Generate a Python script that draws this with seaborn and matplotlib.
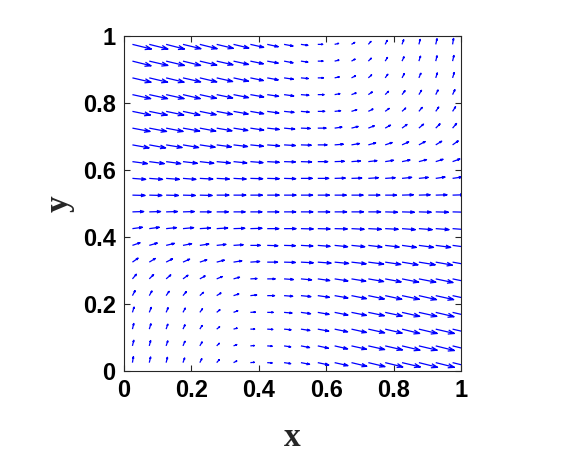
import numpy as np
import matplotlib
matplotlib.use("Agg")
import matplotlib.pyplot as plt
import seaborn as sns

# grid of arrow bases
X_POS = [0.025, 0.075, 0.125, 0.175, 0.225, 0.275, 0.325, 0.375, 0.425, 0.475,
         0.525, 0.575, 0.625, 0.675, 0.725, 0.775, 0.825, 0.875, 0.925, 0.975]
Y_POS = [0.975, 0.925, 0.875, 0.825, 0.775, 0.725, 0.675, 0.625, 0.575, 0.525,
         0.475, 0.425, 0.375, 0.325, 0.275, 0.225, 0.175, 0.125, 0.075, 0.025]

# horizontal component, one list per row (top row first)
U_ROWS = [
    [57, 56, 55, 54, 52, 50, 46, 40, 33, 27, 21, 15, 12, 10, 8, 6, 5, 4, 4, 3],
    [56, 56, 55, 53, 51, 49, 45, 39, 33, 27, 21, 16, 13, 11, 9, 7, 6, 5, 4, 4],
    [56, 55, 54, 53, 51, 48, 45, 39, 33, 28, 22, 17, 14, 12, 10, 8, 7, 6, 5, 5],
    [55, 55, 54, 52, 50, 48, 45, 40, 34, 29, 24, 19, 16, 14, 12, 10, 9, 8, 7, 7],
    [54, 54, 53, 51, 49, 47, 44, 40, 35, 30, 25, 21, 18, 16, 14, 12, 11, 10, 9, 9],
    [53, 52, 51, 50, 48, 46, 43, 40, 36, 32, 28, 25, 22, 20, 18, 16, 15, 14, 13, 12],
    [50, 49, 48, 47, 46, 44, 42, 39, 37, 34, 31, 28, 26, 24, 22, 21, 20, 19, 18, 17],
    [45, 45, 44, 43, 42, 41, 40, 38, 36, 34, 32, 30, 29, 27, 26, 25, 24, 23, 22, 22],
    [40, 40, 40, 39, 39, 38, 38, 37, 36, 35, 34, 33, 32, 31, 30, 30, 29, 28, 28, 28],
    [38, 38, 37, 37, 37, 37, 37, 36, 36, 36, 35, 35, 35, 35, 35, 34, 34, 34, 34, 34],
    [34, 34, 34, 34, 34, 35, 35, 35, 35, 35, 36, 36, 36, 36, 37, 37, 37, 37, 38, 38],
    [30, 30, 31, 32, 32, 33, 34, 35, 35, 36, 37, 37, 38, 38, 39, 39, 40, 40, 40, 40],
    [23, 24, 25, 26, 27, 28, 29, 30, 32, 34, 36, 37, 39, 40, 41, 42, 43, 44, 45, 45],
    [17, 18, 19, 20, 21, 23, 25, 28, 31, 34, 37, 40, 42, 44, 46, 47, 48, 49, 50, 50],
    [12, 13, 14, 15, 16, 17, 18, 20, 24, 28, 32, 36, 40, 43, 46, 48, 50, 51, 52, 53],
    [8, 8, 9, 10, 11, 13, 16, 19, 22, 26, 30, 35, 40, 45, 48, 50, 52, 53, 54, 55],
    [5, 6, 6, 7, 8, 10, 13, 15, 18, 24, 29, 34, 40, 45, 48, 51, 53, 54, 55, 56],
    [4, 5, 5, 6, 7, 9, 11, 13, 17, 21, 27, 33, 39, 45, 49, 51, 53, 55, 56, 56],
    [4, 4, 5, 6, 7, 8, 10, 12, 15, 20, 26, 32, 39, 45, 49, 52, 54, 55, 56, 57],
    [3, 4, 4, 5, 6, 8, 10, 12, 15, 20, 26, 33, 40, 46, 50, 53, 55, 56, 56, 57],
]

# vertical component, same layout
V_ROWS = [
    [-14, -14, -14, -13, -13, -12, -11, -9, -7, -5, -3, 0, 3, 6, 9, 12, 14, 15, 17, 18],
    [-14, -13, -13, -13, -12, -11, -10, -8, -6, -5, -3, 0, 3, 6, 9, 11, 13, 15, 16, 17],
    [-13, -13, -13, -12, -12, -11, -10, -8, -6, -4, -2, 0, 3, 6, 9, 11, 13, 14, 15, 16],
    [-12, -12, -12, -12, -11, -10, -9, -7, -5, -4, -2, 0, 3, 5, 8, 10, 12, 13, 14, 15],
    [-11, -11, -11, -11, -10, -9, -8, -7, -5, -3, -2, 0, 2, 5, 7, 9, 10, 12, 13, 14],
    [-10, -10, -10, -9, -9, -8, -7, -6, -4, -3, -1, 0, 3, 5, 7, 9, 11, 12, 13, 14],
    [-9, -9, -8, -8, -7, -6, -5, -4, -3, -2, -1, 0, 2, 4, 6, 7, 9, 10, 11, 12],
    [-6, -6, -6, -5, -5, -4, -4, -3, -2, -1, -1, 0, 1, 2, 3, 4, 5, 6, 7, 8],
    [-3, -3, -3, -3, -2, -2, -2, -1, -1, -1, 0, 0, 1, 1, 2, 2, 3, 3, 4, 4],
    [-1, -1, -1, -1, -1, 0, 0, 0, 0, 0, 0, 0, 0, 0, 0, 0, 1, 1, 1, 1],
    [1, 1, 1, 1, 0, 0, 0, 0, 0, 0, 0, 0, 0, 0, 0, -1, -1, -1, -1, -1],
    [4, 4, 3, 3, 2, 2, 1, 1, 0, 0, -1, -1, -1, -2, -2, -2, -3, -3, -3, -3],
    [8, 7, 6, 5, 4, 3, 2, 0, -1, -1, -2, -3, -4, -4, -5, -5, -6, -6, -6, -6],
    [12, 11, 10, 9, 7, 6, 4, 2, 0, -1, -2, -3, -4, -5, -6, -7, -8, -8, -9, -9],
    [14, 13, 12, 11, 9, 7, 5, 1, 0, -2, -3, -5, -6, -7, -8, -9, -10, -10, -11, -11],
    [15, 14, 13, 12, 10, 8, 5, 2, 0, -2, -3, -5, -7, -9, -10, -11, -11, -12, -12, -12],
    [16, 15, 14, 13, 11, 8, 5, 1, 0, -2, -4, -6, -8, -9, -10, -11, -12, -12, -13, -13],
    [17, 16, 15, 13, 11, 7, 3, 0, -1, -2, -4, -6, -8, -10, -11, -12, -13, -13, -13, -13],
    [17, 16, 15, 14, 12, 8, 4, 1, -1, -3, -5, -7, -9, -10, -11, -12, -13, -13, -14, -14],
    [18, 17, 16, 14, 12, 9, 5, 1, -1, -3, -5, -7, -9, -11, -12, -13, -13, -14, -14, -14],
]

TICKS = [0, 0.2, 0.4, 0.6, 0.8, 1]
TICK_LABELS = ["0", "0.2", "0.4", "0.6", "0.8", "1"]

sns.set_theme(style="white")
plt.rcParams["font.family"] = ["Liberation Sans", "DejaVu Sans"]

X, Y = np.meshgrid(X_POS, Y_POS)
# arrow units were read as 3x zoomed pixels -> data units
DU = np.array(U_ROWS, dtype=float) / (3 * 337)
DV = np.array(V_ROWS, dtype=float) / (3 * 335)

fig = plt.figure(figsize=(5.66, 4.54), dpi=100)
ax = fig.add_axes([0.2191, 0.1828, 0.5954, 0.7379])

# matlab-style quiver: shaft plus two head strokes scaled with arrow length
alpha, beta = 0.33, 0.33
tx, ty = X + DU, Y + DV
hx1 = tx - alpha * (DU + beta * DV)
hy1 = ty - alpha * (DV - beta * DU)
hx2 = tx - alpha * (DU - beta * DV)
hy2 = ty - alpha * (DV + beta * DU)
nan = np.full_like(X, np.nan)
xs = np.stack([X, tx, nan, hx1, tx, hx2, nan], axis=-1).ravel()
ys = np.stack([Y, ty, nan, hy1, ty, hy2, nan], axis=-1).ravel()
ax.plot(xs, ys, color=(0, 0, 1), lw=0.9, solid_capstyle="butt")

ax.set_xlim(0, 1)
ax.set_ylim(0, 1)
ax.set_xticks(TICKS)
ax.set_yticks(TICKS)
ax.set_xticklabels(TICK_LABELS, fontsize=17, fontweight="bold")
ax.set_yticklabels(TICK_LABELS, fontsize=17, fontweight="bold")
ax.xaxis.set_ticks_position("both")
ax.yaxis.set_ticks_position("both")
ax.tick_params(axis="both", which="major", direction="in", length=4,
               width=0.8, color="#262626", pad=6, labelcolor="black")
for s in ax.spines.values():
    s.set_color("#262626")
    s.set_linewidth(0.8)
    s.set_visible(True)

ax.set_xlabel("x", family=["Liberation Serif", "DejaVu Serif"], fontsize=24,
              fontweight="bold", labelpad=14)
ax.set_ylabel("y", family=["Liberation Serif", "DejaVu Serif"], fontsize=24,
              fontweight="bold", labelpad=6)

fig.savefig("out.png", dpi=100)
